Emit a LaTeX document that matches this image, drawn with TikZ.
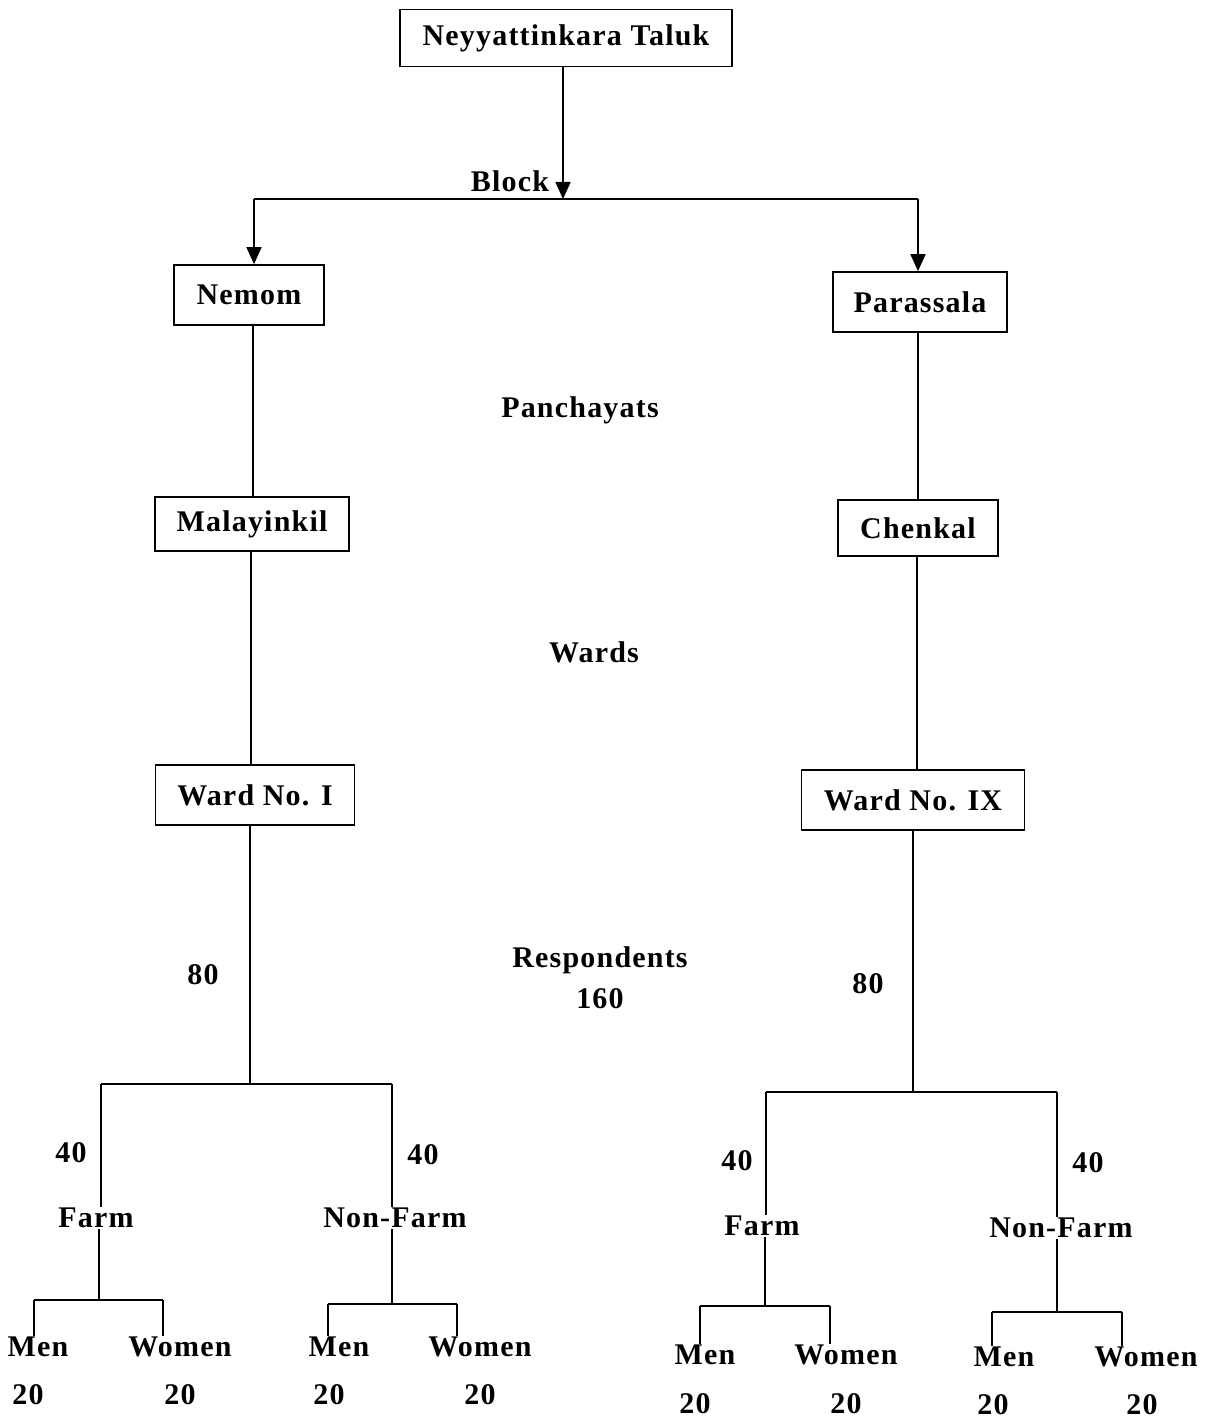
\documentclass[tikz,border=0pt]{standalone}
\usepackage{fontspec}
\setmainfont{Liberation Serif}[LetterSpace=4]
\usetikzlibrary{arrows.meta}
\begin{document}
\begin{tikzpicture}[x=1pt,y=-1pt,
  box/.style={draw,line width=1.7pt,inner sep=0pt,font=\fontsize{30}{36}\selectfont\bfseries},
  lbl/.style={inner sep=1pt,font=\fontsize{30}{36}\selectfont\bfseries},
  ln/.style={line width=1.7pt},
  arr/.style={line width=1.7pt,-{Triangle[width=15pt,length=17pt]}}]
\useasboundingbox[fill=white] (0,0) rectangle (1214,1423);
% boxes
\node[box,minimum width=332pt,minimum height=57pt] (top) at (566,38) {Neyyattinkara Taluk};
\node[box,minimum width=150pt,minimum height=60pt] (nemom) at (249,295) {Nemom};
\node[box,minimum width=174pt,minimum height=60pt] (para) at (920,302) {Parassala};
\node[box,minimum width=194pt,minimum height=54pt] (malay) at (252,524) {Malayinkil};
\node[box,minimum width=160pt,minimum height=56pt] (chen) at (918,528) {Chenkal};
\node[box,minimum width=199pt,minimum height=60pt] (wardI) at (255,795) {Ward No. I};
\node[box,minimum width=223pt,minimum height=60pt] (wardIX) at (913,800) {Ward No. IX};
% middle labels
\node[lbl] (block) at (510,181) {Block};
\node[lbl] (panch) at (580,410) {Panchayats};
\node[lbl] (wards) at (594,652) {Wards};
\node[lbl] (resp) at (600,960) {Respondents};
\node[lbl] (tot) at (600,999) {160};
\node[lbl] (eightyL) at (203,975) {80};
\node[lbl] (eightyR) at (868,984) {80};
% top arrows
\coordinate (bk) at (563,199);
\coordinate (bl) at (254,199);
\coordinate (br) at (918,199);
\draw[arr] (top.south -| bk) -- (bk);
\draw[ln] (bl) -- (br);
\draw[arr] (bl) -- (nemom.north -| bl);
\draw[arr] (br) -- (para.north -| br);
% verticals
\coordinate (vl1) at (253,0);
\coordinate (vl2) at (251,0);
\coordinate (vr1) at (918,0);
\coordinate (vr2) at (917,0);
\draw[ln] (nemom.south -| vl1) -- (malay.north -| vl1);
\draw[ln] (malay.south -| vl2) -- (wardI.north -| vl2);
\draw[ln] (para.south -| vr1) -- (chen.north -| vr1);
\draw[ln] (chen.south -| vr2) -- (wardIX.north -| vr2);
% ---------- left respondents ----------
\coordinate (jl) at (250,1084);
\coordinate (jlA) at (101,1084);
\coordinate (jlB) at (392,1084);
\draw[ln] (wardI.south -| jl) -- (jl);
\draw[ln] (jlA) -- (jlB);
\node[lbl] (fortyLA) at (71,1153) {40};
\node[lbl] (fortyLB) at (423,1155) {40};
\node[lbl] (farmL) at (96,1218) {Farm};
\node[lbl] (nfarmL) at (395,1218) {Non-Farm};
\draw[ln] (jlA) -- (farmL.north -| jlA);
\draw[ln] (jlB) -- (nfarmL.north -| jlB);
% farm left split
\coordinate (fl) at (99,1300);
\coordinate (flA) at (34,1300);
\coordinate (flB) at (163,1300);
\node[lbl] (menL1) at (38,1347) {Men};
\node[lbl] (womL1) at (180,1347) {Women};
\node[lbl] (nL1) at (28,1395) {20};
\node[lbl] (nL2) at (180,1395) {20};
\draw[ln] (farmL.south -| fl) -- (fl);
\draw[ln] (flA) -- (flB);
\draw[ln] (flA) -- (menL1.north -| flA);
\draw[ln] (flB) -- (womL1.north -| flB);
% non-farm left split
\coordinate (nl) at (392,1304);
\coordinate (nlA) at (328,1304);
\coordinate (nlB) at (457,1304);
\node[lbl] (menL2) at (339,1347) {Men};
\node[lbl] (womL2) at (480,1347) {Women};
\node[lbl] (nL3) at (329,1395) {20};
\node[lbl] (nL4) at (480,1395) {20};
\draw[ln] (nfarmL.south -| nl) -- (nl);
\draw[ln] (nlA) -- (nlB);
\draw[ln] (nlA) -- (menL2.north -| nlA);
\draw[ln] (nlB) -- (womL2.north -| nlB);
% ---------- right respondents ----------
\coordinate (jr) at (913,1092);
\coordinate (jrA) at (766,1092);
\coordinate (jrB) at (1057,1092);
\draw[ln] (wardIX.south -| jr) -- (jr);
\draw[ln] (jrA) -- (jrB);
\node[lbl] (fortyRA) at (737,1161) {40};
\node[lbl] (fortyRB) at (1088,1163) {40};
\node[lbl] (farmR) at (762,1226) {Farm};
\node[lbl] (nfarmR) at (1061,1228) {Non-Farm};
\draw[ln] (jrA) -- (farmR.north -| jrA);
\draw[ln] (jrB) -- (nfarmR.north -| jrB);
% farm right split
\coordinate (fr) at (765,1306);
\coordinate (frA) at (700,1306);
\coordinate (frB) at (830,1306);
\node[lbl] (menR1) at (705,1355) {Men};
\node[lbl] (womR1) at (846,1355) {Women};
\node[lbl] (nR1) at (695,1404) {20};
\node[lbl] (nR2) at (846,1404) {20};
\draw[ln] (farmR.south -| fr) -- (fr);
\draw[ln] (frA) -- (frB);
\draw[ln] (frA) -- (menR1.north -| frA);
\draw[ln] (frB) -- (womR1.north -| frB);
% non-farm right split
\coordinate (nr) at (1057,1312);
\coordinate (nrA) at (992,1312);
\coordinate (nrB) at (1122,1312);
\node[lbl] (menR2) at (1004,1357) {Men};
\node[lbl] (womR2) at (1146,1357) {Women};
\node[lbl] (nR3) at (993,1405) {20};
\node[lbl] (nR4) at (1142,1405) {20};
\draw[ln] (nfarmR.south -| nr) -- (nr);
\draw[ln] (nrA) -- (nrB);
\draw[ln] (nrA) -- (menR2.north -| nrA);
\draw[ln] (nrB) -- (womR2.north -| nrB);
\end{tikzpicture}
\end{document}
